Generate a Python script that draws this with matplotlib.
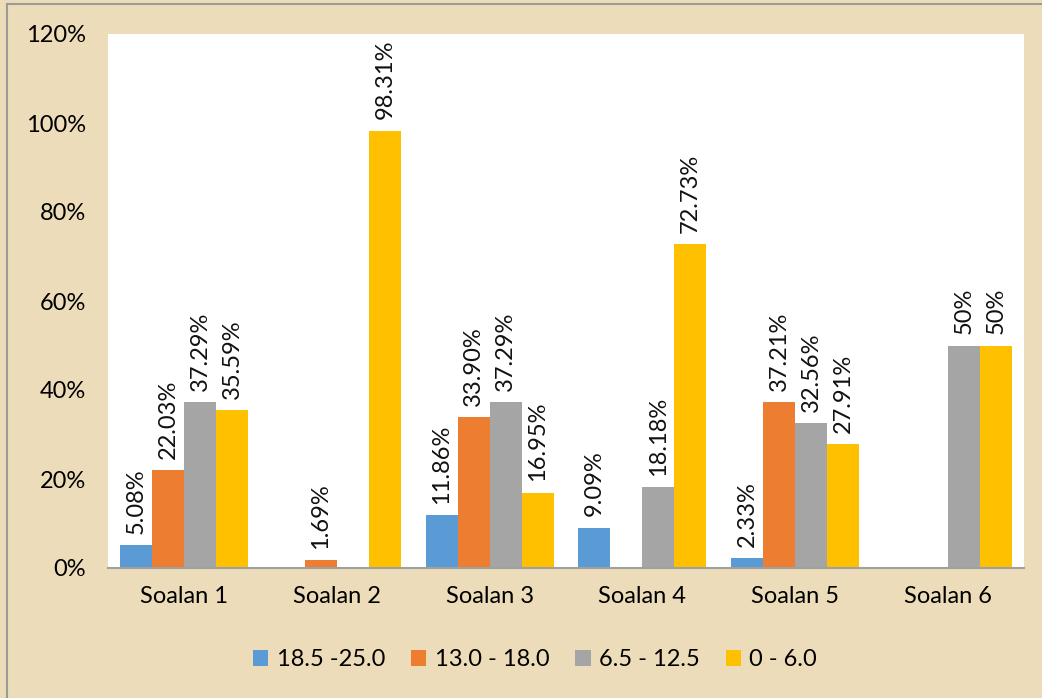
import matplotlib
matplotlib.use("Agg")
import matplotlib.pyplot as plt
import numpy as np
from matplotlib.lines import Line2D

categories = ["Soalan 1", "Soalan 2", "Soalan 3", "Soalan 4", "Soalan 5", "Soalan 6"]
series_names = ["18.5 -25.0", "13.0 - 18.0", "6.5 - 12.5", "0 - 6.0"]
s1 = [5.08, 0, 11.86, 9.09, 2.33, 0]
s2 = [22.03, 1.69, 33.90, 0, 37.21, 0]
s3 = [37.29, 0, 37.29, 18.18, 32.56, 50]
s4 = [35.59, 98.31, 16.95, 72.73, 27.91, 50]
labels1 = ["5.08%", "", "11.86%", "9.09%", "2.33%", ""]
labels2 = ["22.03%", "1.69%", "33.90%", "", "37.21%", ""]
labels3 = ["37.29%", "", "37.29%", "18.18%", "32.56%", "50%"]
labels4 = ["35.59%", "98.31%", "16.95%", "72.73%", "27.91%", "50%"]
yticks = [0, 20, 40, 60, 80, 100, 120]
ytick_labels = ["0%", "20%", "40%", "60%", "80%", "100%", "120%"]

colors = ["#5B9BD5", "#ED7D31", "#A5A5A5", "#FFC000"]
plt.rcParams['font.family'] = ['Lato', 'DejaVu Sans']
FS = 17

fig = plt.figure(figsize=(10.42, 6.98), dpi=100)
fig.patch.set_facecolor("#ECDCB9")
# frame lines (top and left only visible)
fig.add_artist(Line2D([7/1042, 7/1042], [0, 1 - 4/698], transform=fig.transFigure, color="#9a9a9a", lw=1.5))
fig.add_artist(Line2D([7/1042, 1], [1 - 4/698, 1 - 4/698], transform=fig.transFigure, color="#9a9a9a", lw=1.5))

ax = fig.add_axes([108/1042, 1 - 568/698, (1024 - 108)/1042, (568 - 34)/698])
ax.set_facecolor("white")

x = np.arange(len(categories))
w = 0.21
allvals = [s1, s2, s3, s4]
alllabels = [labels1, labels2, labels3, labels4]
for i, (vals, labs) in enumerate(zip(allvals, alllabels)):
    pos = x + (i - 1.5) * w
    ax.bar(pos, vals, width=w, color=colors[i], label=series_names[i])
    for p, v, lab in zip(pos, vals, labs):
        if lab:
            ax.annotate(lab, (p, v), xytext=(0, 8), textcoords="offset points",
                        rotation=90, ha="center", va="bottom", fontsize=FS, color="#111111")

ax.set_xlim(-0.5, len(categories) - 0.5)
ax.set_ylim(0, 120)
ax.set_yticks(yticks)
ax.set_yticklabels(ytick_labels, fontsize=FS)
ax.set_xticks(x)
ax.set_xticklabels(categories, fontsize=FS)
ax.tick_params(axis='x', length=0, pad=13)
ax.tick_params(axis='y', length=0, pad=16)
for s in ["top", "right", "left"]:
    ax.spines[s].set_visible(False)
ax.spines["bottom"].set_color("#A0A0A0")
ax.spines["bottom"].set_linewidth(1.5)

fig.legend(loc="center", bbox_to_anchor=(535/1042, 1 - 660/698), ncol=4, frameon=False,
           fontsize=FS, handlelength=0.65, handleheight=0.65, handletextpad=0.35, columnspacing=1.1)

fig.savefig("out.png", dpi=100, facecolor=fig.get_facecolor())
